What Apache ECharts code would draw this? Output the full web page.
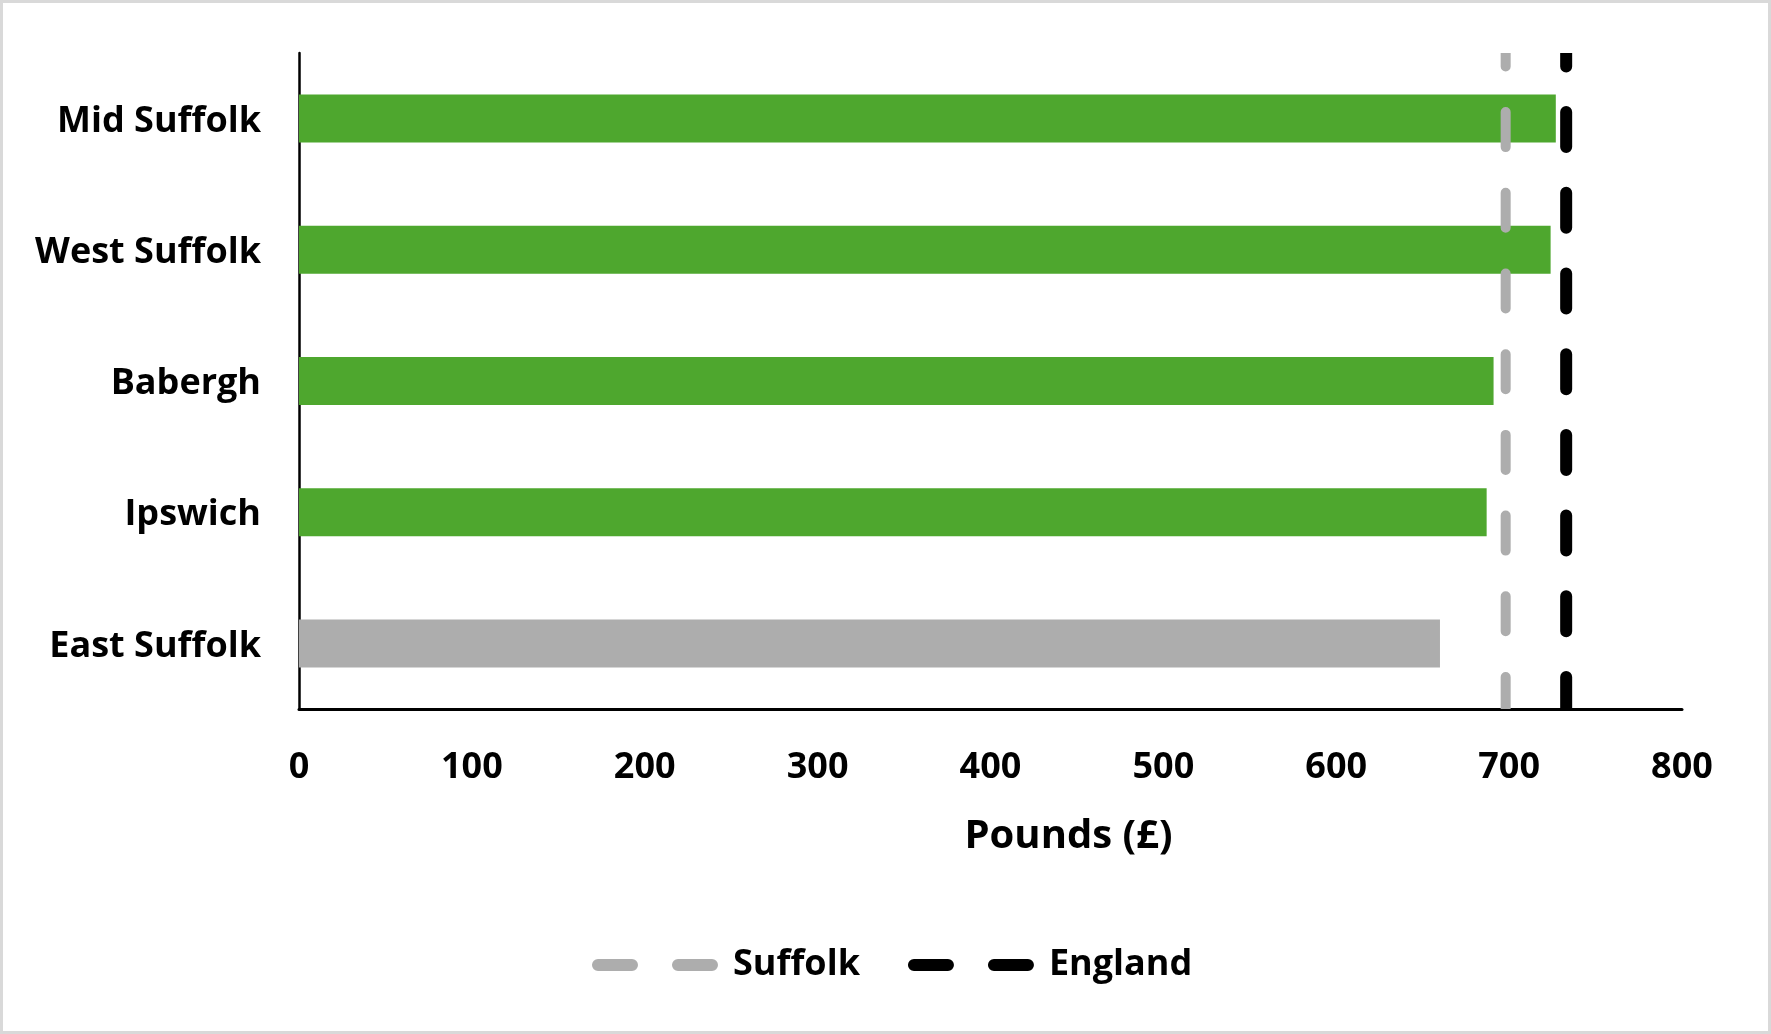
<!DOCTYPE html>
<html>
<head>
<meta charset="utf-8">
<script src="https://cdn.jsdelivr.net/npm/echarts@6/dist/echarts.min.js"></script>
<style>
html,body{margin:0;padding:0;background:#fff;}
#chart{width:1771px;height:1034px;}
</style>
</head>
<body>
<div id="chart"></div>
<script>
// ---- data ----
const categories = ['Mid Suffolk', 'West Suffolk', 'Babergh', 'Ipswich', 'East Suffolk'];
const values = [727, 724, 691, 687, 660];
const highlightCategory = 'East Suffolk';
const suffolkValue = [698];
const englandValue = [733];
const xTicks = [0, 800, 100]; // min, max, interval
const axisName = 'Pounds (£)';
const lineNames = ['Suffolk', 'England'];

const GREEN = '#4EA72E';
const GREY_BAR = '#ADADAD';
const GREY_LINE = '#ADADAD';

const chart = echarts.init(document.getElementById('chart'), null, {renderer: 'canvas'});

const FONT = 'Open Sans';
const DASH = [35, 45.7];
// legend icon: two rounded dashes
const ICON = 'path://M6,0 H40 A6,6 0 0 1 40,12 H6 A6,6 0 0 1 6,0 Z M86,0 H120 A6,6 0 0 1 120,12 H86 A6,6 0 0 1 86,0 Z';

function refLine(color, width) {
  return function (params, api) {
    const v = api.value(0);
    const p0 = api.coord([v, 0]);
    const p1 = api.coord([v, 1]);
    return {
      type: 'line',
      shape: {x1: p0[0], y1: p0[1], x2: p1[0], y2: p1[1]},
      style: {stroke: color, lineWidth: width, lineDash: DASH, lineDashOffset: 3, lineCap: 'round', fill: null}
    };
  };
}

const option = {
  backgroundColor: '#ffffff',
  animation: false,
  graphic: [{
    type: 'rect',
    shape: {x: 1.5, y: 1.5, width: 1768, height: 1031},
    style: {fill: 'none', stroke: '#D9D9D9', lineWidth: 3},
    silent: true, z: 100
  }],
  grid: {left: 299, right: 89, top: 53, bottom: 325, containLabel: false},
  legend: {
    left: 587, top: 942,
    itemWidth: 126, itemHeight: 12, itemGap: 48,
    data: [
      {name: lineNames[0], icon: ICON, itemStyle: {color: GREY_LINE}},
      {name: lineNames[1], icon: ICON, itemStyle: {color: '#000'}}
    ],
    textStyle: {fontFamily: FONT, fontWeight: 'bold', fontSize: 36, color: '#000', padding: [0, 0, 0, 10]}
  },
  xAxis: {
    type: 'value', min: xTicks[0], max: xTicks[1], interval: xTicks[2],
    axisLine: {show: true, lineStyle: {color: '#000', width: 3}},
    axisTick: {show: false},
    splitLine: {show: false},
    axisLabel: {margin: 41, fontFamily: FONT, fontWeight: 'bold', fontSize: 36, color: '#000'},
    name: axisName, nameLocation: 'middle', nameGap: 108,
    nameTextStyle: {fontFamily: FONT, fontWeight: 'bold', fontSize: 40, color: '#000', padding: [0, 0, 0, 156]}
  },
  yAxis: [{
    type: 'category', data: categories, inverse: true,
    axisLine: {show: true, lineStyle: {color: '#000', width: 2.5}},
    axisTick: {show: false},
    axisLabel: {
      margin: 38,
      formatter: v => '{t|' + v + '}',
      rich: {t: {fontFamily: FONT, fontWeight: 'bold', fontSize: 36, color: '#000', padding: [6, 0, 0, 0]}}
    }
  }, {
    type: 'value', min: 0, max: 1, show: false
  }],
  series: [{
    type: 'bar', name: 'Districts', data: values, barWidth: 48,
    itemStyle: {color: p => p.name === highlightCategory ? GREY_BAR : GREEN},
    z: 2
  }, {
    type: 'custom', name: lineNames[0], yAxisIndex: 1, clip: true,
    data: suffolkValue.map(v => [v]),
    renderItem: refLine(GREY_LINE, 10),
    itemStyle: {color: GREY_LINE},
    z: 3
  }, {
    type: 'custom', name: lineNames[1], yAxisIndex: 1, clip: true,
    data: englandValue.map(v => [v]),
    renderItem: refLine('#000', 12),
    itemStyle: {color: '#000'},
    z: 3
  }]
};
chart.setOption(option);
</script>
</body>
</html>
